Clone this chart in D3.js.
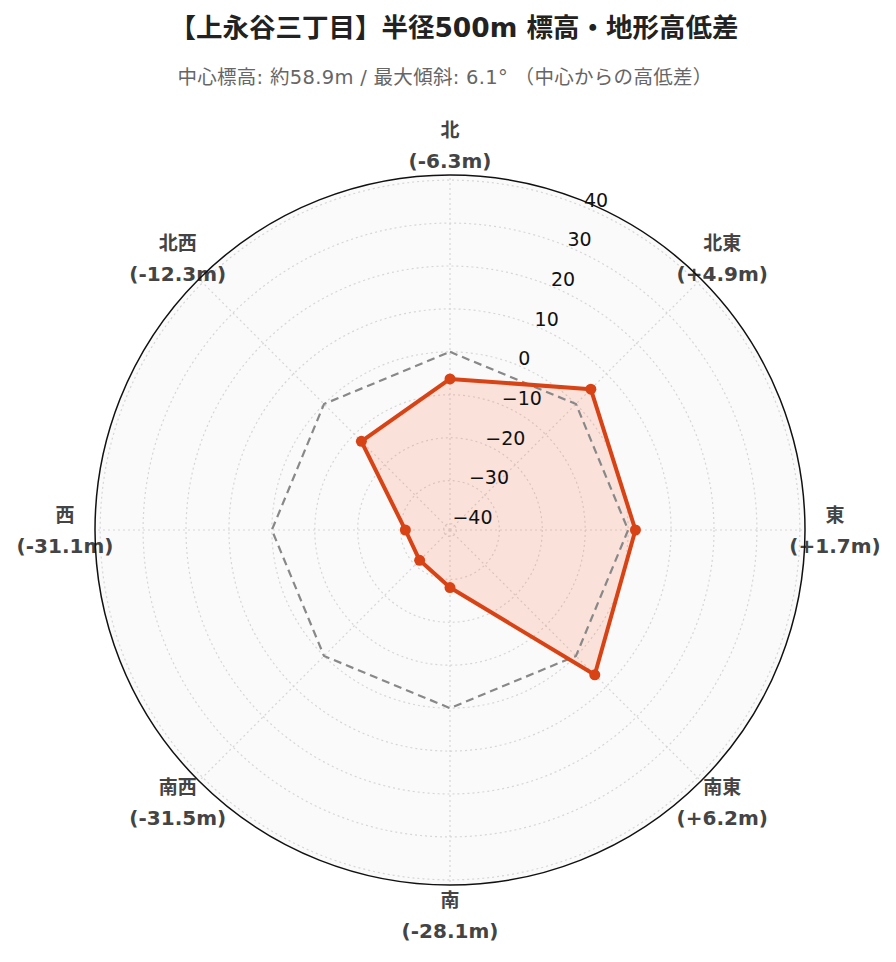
<!DOCTYPE html>
<html><head><meta charset="utf-8">
<script src="https://cdn.jsdelivr.net/npm/d3@7"></script>
<style>body{margin:0;background:#fff;} svg{display:block;}</style>
</head><body>
<svg id="chart" width="896" height="962"></svg>
<script>
const directions = ["北","北東","東","南東","南","南西","西","北西"];
const values = [-6.3, 4.9, 1.7, 6.2, -28.1, -31.5, -31.1, -12.3];
const valueLabels = ["(-6.3m)","(+4.9m)","(+1.7m)","(+6.2m)","(-28.1m)","(-31.5m)","(-31.1m)","(-12.3m)"];
const referenceValues = [0,0,0,0,0,0,0,0];
const radialTicks = [-40,-30,-20,-10,0,10,20,30,40];
const radialDomain = [-41.5, 41.2];
const titleText = "【上永谷三丁目】半径500m 標高・地形高低差";
const subtitleText = "中心標高: 約58.9m / 最大傾斜: 6.1° （中心からの高低差）";

const svg = d3.select("#chart");
const cx = 450, cy = 530, R = 355;
const r = d3.scaleLinear().domain(radialDomain).range([0, R]);
const ang = d3.scaleBand().domain(directions).range([0, 2*Math.PI]).align(0).paddingInner(0).paddingOuter(0);
const angle = d => ang(d); // 0 = north, clockwise
const pt = (d, v) => [Math.sin(angle(d))*r(v), -Math.cos(angle(d))*r(v)];

svg.append("text").attr("x", 454).attr("y", 37).attr("text-anchor","middle")
  .attr("font-family","'DejaVu Sans','Noto Sans CJK JP', sans-serif").attr("font-weight","bold")
  .attr("font-size",26.5).attr("fill","#222").text(titleText);
svg.append("text").attr("x", 445).attr("y", 84).attr("text-anchor","middle")
  .attr("font-family","'DejaVu Sans','Noto Sans CJK JP', sans-serif")
  .attr("font-size",19.5).attr("letter-spacing","0.3").attr("fill","#666").text(subtitleText);

const g = svg.append("g").attr("transform", `translate(${cx},${cy})`);
g.append("circle").attr("r", R).attr("fill","#fafafa");

// grid circles
g.selectAll("circle.grid").data(radialTicks).join("circle").attr("class","grid")
  .attr("r", d => r(d)).attr("fill","none").attr("stroke","#d6d6d6")
  .attr("stroke-width",1.2).attr("stroke-dasharray","2,3");
// spokes
g.selectAll("line.spoke").data(directions).join("line").attr("class","spoke")
  .attr("x1",0).attr("y1",0)
  .attr("x2", d => Math.sin(angle(d))*R).attr("y2", d => -Math.cos(angle(d))*R)
  .attr("stroke","#d6d6d6").attr("stroke-width",1.2).attr("stroke-dasharray","2,3");

// data area
const radial = d3.lineRadial().curve(d3.curveLinearClosed)
  .angle((d,i) => angle(directions[i])).radius(d => r(d));
g.append("path").datum(values).attr("d", radial)
  .attr("fill","rgba(255,87,34,0.15)").attr("stroke","none");

// reference dashed
g.append("path").datum(referenceValues).attr("d", radial)
  .attr("fill","none").attr("stroke","#888").attr("stroke-width",2.2)
  .attr("stroke-dasharray","8,5");

// data line
g.append("path").datum(values).attr("d", radial)
  .attr("fill","none").attr("stroke","#d84315").attr("stroke-width",4)
  .attr("stroke-linejoin","round");
g.selectAll("circle.pt").data(values).join("circle").attr("class","pt")
  .attr("cx",(v,i)=>pt(directions[i],v)[0]).attr("cy",(v,i)=>pt(directions[i],v)[1])
  .attr("r",5.5).attr("fill","#d84315");

// radial tick labels along 22.5deg
const tickAngle = Math.PI/8;
g.selectAll("text.tick").data(radialTicks).join("text").attr("class","tick")
  .attr("x", d => Math.sin(tickAngle)*r(d)).attr("y", d => -Math.cos(tickAngle)*r(d))
  .attr("font-family","'DejaVu Sans', sans-serif").attr("font-size",19).attr("fill","#111")
  .text(d => d < 0 ? "\u2212" + Math.abs(d) : String(d));

// angular labels
const labR = R + 30;
const lab = g.selectAll("g.lab").data(directions).join("g").attr("class","lab")
  .attr("transform", d => `translate(${Math.sin(angle(d))*labR},${-Math.cos(angle(d))*labR})`);
lab.append("text").attr("text-anchor","middle").attr("y",-8)
  .attr("font-family","'DejaVu Sans','Noto Sans CJK JP', sans-serif").attr("font-weight","bold")
  .attr("font-size",19).attr("fill","#444").text(d => d);
lab.append("text").attr("text-anchor","middle").attr("y",23)
  .attr("font-family","'DejaVu Sans','Noto Sans CJK JP', sans-serif").attr("font-weight","bold")
  .attr("font-size",20).attr("fill","#444").text((d,i) => valueLabels[i]);

// outer circle
g.append("circle").attr("r", R).attr("fill","none").attr("stroke","#111").attr("stroke-width",1.5);
</script>
</body></html>
